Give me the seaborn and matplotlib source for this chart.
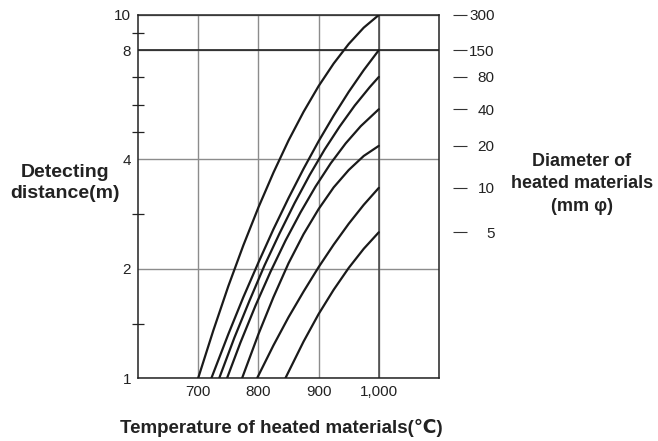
import pandas as pd
import matplotlib
matplotlib.use('Agg')
import matplotlib.pyplot as plt
import seaborn as sns
from matplotlib.ticker import FixedLocator, NullFormatter, NullLocator

# Data: suhu (C) vs jarak deteksi (m) untuk tiap diameter
diameters = ['300', '150', '80', '40', '20', '10', '5']

temp_300 = [700, 725, 750, 775, 800, 825, 850, 875, 900, 925, 950, 975, 1000]
dist_300 = [1, 1.35, 1.79, 2.32, 2.95, 3.68, 4.51, 5.41, 6.37, 7.35, 8.32, 9.23, 10]

temp_150 = [722, 750, 775, 800, 825, 850, 875, 900, 925, 950, 975, 1000]
dist_150 = [1, 1.32, 1.67, 2.08, 2.57, 3.13, 3.77, 4.49, 5.28, 6.14, 7.05, 8.0]

temp_80 = [735, 760, 785, 810, 835, 860, 885, 910, 935, 960, 985, 1000]
dist_80 = [1, 1.29, 1.63, 2.04, 2.50, 3.03, 3.62, 4.26, 4.93, 5.63, 6.33, 6.75]

temp_40 = [748, 770, 795, 820, 845, 870, 895, 920, 945, 970, 1000]
dist_40 = [1, 1.25, 1.58, 1.96, 2.39, 2.86, 3.37, 3.90, 4.43, 4.94, 5.5]

temp_20 = [773, 800, 825, 850, 875, 900, 925, 950, 975, 1000]
dist_20 = [1, 1.32, 1.67, 2.07, 2.49, 2.92, 3.35, 3.74, 4.09, 4.36]

temp_10 = [798, 825, 850, 875, 900, 925, 950, 975, 1000]
dist_10 = [1, 1.23, 1.47, 1.73, 2.02, 2.33, 2.66, 3.0, 3.34]

temp_5 = [845, 875, 900, 925, 950, 975, 1000]
dist_5 = [1, 1.26, 1.50, 1.75, 2.01, 2.27, 2.52]

x_ticks = [700, 800, 900, 1000]
x_tick_labels = ['700', '800', '900', '1,000']
y_ticks = [1, 2, 4, 8, 10]
y_minor_ticks = [1.41, 2.83, 4.76, 5.66, 6.73, 8.94]

all_temps = [temp_300, temp_150, temp_80, temp_40, temp_20, temp_10, temp_5]
all_dists = [dist_300, dist_150, dist_80, dist_40, dist_20, dist_10, dist_5]

rows = []
for dia, ts, ds in zip(diameters, all_temps, all_dists):
    for t, d in zip(ts, ds):
        rows.append({'Temp': t, 'Distance': d, 'Diameter': dia})
df = pd.DataFrame(rows)

sns.set_theme(style='white')
plt.rcParams['font.family'] = ['Liberation Sans', 'DejaVu Sans']

fig = plt.figure(figsize=(6.58, 4.41), dpi=100)
ax = fig.add_axes([138 / 658, 63 / 441, 301 / 658, 363 / 441])

# Grid dan garis referensi
ax.set_yscale('log')
ax.set_xlim(600, 1100)
ax.set_ylim(1, 10)
ax.set_xticks(x_ticks, labels=x_tick_labels)
ax.set_yticks(y_ticks, labels=[str(v) for v in y_ticks])
ax.yaxis.set_minor_locator(FixedLocator(y_minor_ticks))
ax.yaxis.set_minor_formatter(NullFormatter())
ax.xaxis.set_minor_locator(NullLocator())
ax.grid(True, which='major', color='#8c8c8c', linewidth=1.0)
ax.axhline(8, color='#222222', linewidth=1.2, zorder=2)
ax.axvline(1000, color='#444444', linewidth=1.1, zorder=2)

sns.lineplot(data=df, x='Temp', y='Distance', units='Diameter', estimator=None,
             sort=False, color='#1a1a1a', linewidth=1.6, ax=ax, zorder=3)

ax.tick_params(axis='both', which='major', length=0, labelsize=11, colors='#222222', pad=5)
ax.tick_params(axis='y', which='minor', direction='inout', length=9, width=0.9,
               color='#222222', left=True)
for sp in ax.spines.values():
    sp.set_visible(True)
    sp.set_color('#222222')
    sp.set_linewidth(1.1)

ax.set_xlabel('Temperature of heated materials(℃)', fontsize=13.5, fontweight='bold',
              color='#222222')
ax.xaxis.set_label_coords(0.475, -0.112)
ax.set_ylabel('Detecting\ndistance(m)', fontsize=14, fontweight='bold', rotation=0,
              ha='center', va='center', color='#222222', linespacing=1.25)
ax.yaxis.set_label_coords(-0.243, 0.537)

# Sumbu kanan: diameter pada ujung kurva (1,000 C)
ax2 = ax.twinx()
ax2.set_yscale('log')
ax2.set_ylim(1, 10)
end_dists = [ds[-1] for ds in all_dists]
ax2.set_yticks(end_dists, labels=diameters)
ax2.yaxis.set_minor_locator(NullLocator())
for sp in ax2.spines.values():
    sp.set_visible(False)
ax2.spines['right'].set_position(('outward', 10))
ax2.tick_params(axis='y', which='major', direction='out', length=10, width=0.8,
                color='#333333', labelsize=11, labelcolor='#222222', pad=20)
plt.setp(ax2.get_yticklabels(), ha='right')
ax2.grid(False)

fig.text(582 / 658, 1 - 184 / 441, 'Diameter of\nheated materials\n(mm φ)', fontsize=13,
         fontweight='bold', ha='center', va='center', color='#222222', linespacing=1.4)

fig.savefig('out.png', dpi=100)
